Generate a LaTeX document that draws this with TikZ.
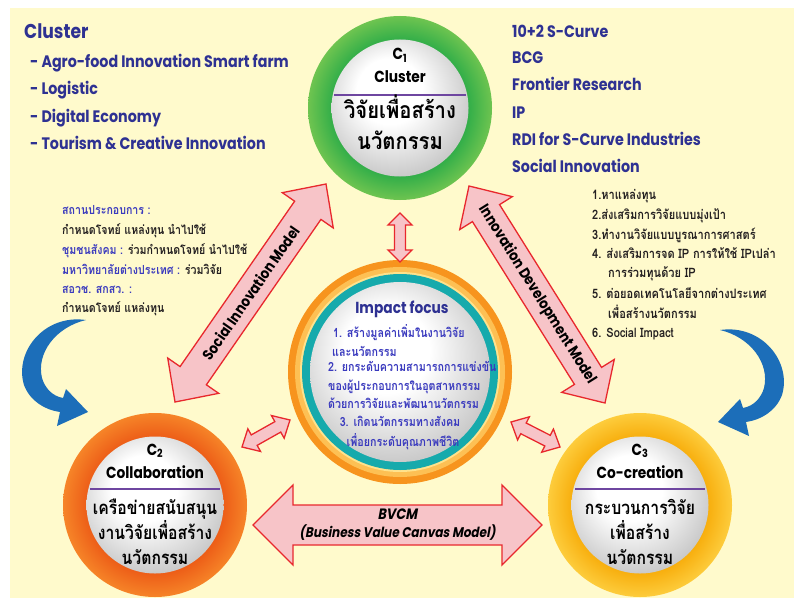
\documentclass[tikz,border=0pt]{standalone}
\usepackage{fontspec}
\setmainfont{Poppins}[FakeStretch=0.86]
\newfontfamily\thaifont[Script=Thai,FakeStretch=0.85]{Loma}
\newfontfamily\thaibig[Script=Thai,FakeStretch=0.88]{Loma}
\newfontfamily\slfont{Poppins}[FakeStretch=0.86,FakeSlant=0.18]
\usetikzlibrary{calc}

\definecolor{bgyellow}{RGB}{255,250,204}
\definecolor{navy}{RGB}{46,49,146}
\definecolor{thaiblue}{RGB}{58,58,190}
\definecolor{txtblack}{RGB}{35,31,32}
\definecolor{gdark}{RGB}{45,172,72}
\definecolor{glight}{RGB}{110,196,80}
\definecolor{odark}{RGB}{236,90,22}
\definecolor{olight}{RGB}{246,132,40}
\definecolor{ydark}{RGB}{247,172,10}
\definecolor{ylight}{RGB}{253,204,60}
\definecolor{ringorange}{RGB}{247,148,30}
\definecolor{ringyellow}{RGB}{253,192,84}
\definecolor{ringpale}{RGB}{255,226,140}
\definecolor{ringteal}{RGB}{22,170,172}
\definecolor{arrowfill}{RGB}{247,196,200}
\definecolor{arrowline}{RGB}{232,40,45}
\definecolor{arcblue}{RGB}{28,110,185}
\definecolor{divider}{RGB}{110,70,160}

\pgfdeclareradialshading{ringG}{\pgfpoint{0bp}{0bp}}{color(0bp)=(gdark); color(18bp)=(gdark); color(25bp)=(glight); color(50bp)=(glight)}
\pgfdeclareradialshading{ringO}{\pgfpoint{0bp}{0bp}}{color(0bp)=(odark); color(18bp)=(odark); color(25bp)=(olight); color(50bp)=(olight)}
\pgfdeclareradialshading{ringY}{\pgfpoint{0bp}{0bp}}{color(0bp)=(ydark); color(18bp)=(ydark); color(25bp)=(ylight); color(50bp)=(ylight)}
\pgfdeclareradialshading{silver}{\pgfpoint{-5bp}{8bp}}{color(0bp)=(white); color(12bp)=(white); color(31bp)=(black!24); color(50bp)=(black!24)}

\newcommand\fatarrow[7]{%
  \path (#1); \pgfgetlastxy{\myax}{\myay}%
  \path (#2); \pgfgetlastxy{\mybx}{\myby}%
  \pgfmathsetmacro\myang{atan2(\myby-\myay,\mybx-\myax)}%
  \pgfmathsetmacro\myhl{veclen(\mybx-\myax,\myby-\myay)/2}%
  \begin{scope}[shift={($(#1)!0.5!(#2)$)}, rotate=\myang, x=1pt, y=1pt]
    \draw[fatarrowstyle] (-\myhl,0) -- (-\myhl+#5,#4) -- (-\myhl+#5,#3) -- (\myhl-#5,#3) -- (\myhl-#5,#4) -- (\myhl,0) -- (\myhl-#5,-#4) -- (\myhl-#5,-#3) -- (-\myhl+#5,-#3) -- (-\myhl+#5,-#4) -- cycle;
    \node[transform shape, arrowlabel] (#7) at (0,0) {#6};
  \end{scope}}

\tikzset{
  ringnode/.style={circle, inner sep=0pt, minimum size=184pt},
  discnode/.style={circle, inner sep=0pt, minimum size=137pt, shading=silver},
  fatarrowstyle/.style={draw=arrowline, line width=1.3pt, fill=arrowfill, line join=miter},
  arrowlabel/.style={inner sep=0pt, align=center, text=black, font=\bfseries\fontsize{15}{17}\selectfont},
  titletext/.style={inner sep=0pt, text=navy, font=\bfseries\fontsize{20}{23}\selectfont},
  listtext/.style={inner sep=0pt, anchor=base west, text=navy, font=\bfseries\fontsize{16.6}{19}\selectfont},
  thaiside/.style={inner sep=0pt, anchor=base west, text=txtblack, font=\thaifont\bfseries\fontsize{12.5}{15}\selectfont},
  thairight/.style={inner sep=0pt, anchor=base west, text=txtblack, font=\thaifont\bfseries\fontsize{13}{15}\selectfont},
  thaicenter/.style={inner sep=0pt, text=thaiblue, font=\thaifont\bfseries\fontsize{12.6}{15}\selectfont},
  ctitle/.style={inner sep=0pt, anchor=base, text=black, font=\bfseries\fontsize{16}{19}\selectfont},
  cthaibig/.style={inner sep=0pt, anchor=base, text=black, font=\thaibig\bfseries\fontsize{23}{26}\selectfont},
  cthai/.style={inner sep=0pt, anchor=base, text=black, font=\thaifont\bfseries\fontsize{18.5}{21}\selectfont},
  divline/.style={draw=divider, line width=1.3pt},
  bluearc/.pic={\fill[arcblue] (86,320) .. controls (44,314) and (14,352) .. (24,385) .. controls (30,401) and (45,410) .. (60,412) -- (57,426) -- (88,412) -- (66,389) -- (63,398) .. controls (52,396) and (45,388) .. (42,378) .. controls (36,353) and (56,327) .. (86,320) -- cycle;}
}

\begin{document}
\begin{tikzpicture}[x=1pt, y=-1pt]
\useasboundingbox (0,0) rectangle (794,607);
\fill[white] (0,0) rectangle (794,607);
\fill[bgyellow] (10,8) rectangle (794,598);

% blue curved arrows
\pic at (0,0) {bluearc};
\pic[xscale=-1] at (806,10) {bluearc};

% circles
\node[ringnode, shading=ringG] (c1) at (400,108) {};
\node[discnode] (c1in) at (c1) {};
\node[ringnode, shading=ringO] (c2) at (155,505) {};
\node[discnode] (c2in) at (c2) {};
\node[ringnode, shading=ringY] (c3) at (640,505) {};
\node[discnode] (c3in) at (c3) {};

% centre circle
\node[circle, inner sep=0pt, minimum size=224pt, fill=ringorange] (cc) at (400,372) {};
\node[circle, inner sep=0pt, minimum size=210pt, fill=ringyellow] (ccy) at (cc) {};
\node[circle, inner sep=0pt, minimum size=200pt, fill=ringpale] (ccp) at (cc) {};
\node[circle, inner sep=0pt, minimum size=196pt, fill=ringteal] (cct) at (cc) {};
\node[circle, inner sep=0pt, minimum size=180pt, shading=silver] (ccin) at (cc) {};

% C1 text
\node[ctitle] (c1a) at (400,60) {C\textsubscript{1}};
\node[ctitle] (c1b) at (400,83) {Cluster};
\draw[divline] ($(c1)+(-66,-13)$) -- ($(c1)+(66,-13)$);
\node[cthaibig] (c1c) at (400,118) {วิจัยเพื่อสร้าง};
\node[cthaibig] (c1d) at (400,149) {นวัตกรรม};

% C2 text
\node[ctitle] (c2a) at (155,455) {C\textsubscript{2}};
\node[ctitle] (c2b) at (155,478) {Collaboration};
\draw[divline] ($(c2)+(-65,-16)$) -- ($(c2)+(65,-16)$);
\node[cthai] (c2c) at (155,514) {เครือข่ายสนับสนุน};
\node[cthai] (c2d) at (155,539) {งานวิจัยเพื่อสร้าง};
\node[cthai] (c2e) at (155,564) {นวัตกรรม};

% C3 text
\node[ctitle] (c3a) at (640,455) {C\textsubscript{3}};
\node[ctitle] (c3b) at (640,478) {Co-creation};
\draw[divline] ($(c3)+(-65,-16)$) -- ($(c3)+(65,-16)$);
\node[cthai] (c3c) at (640,514) {กระบวนการวิจัย};
\node[cthai] (c3d) at (640,539) {เพื่อสร้าง};
\node[cthai] (c3e) at (640,564) {นวัตกรรม};

% centre text
\node[inner sep=0pt, anchor=base, text=navy, font=\bfseries\fontsize{16}{19}\selectfont] (imp) at (402,313) {Impact focus};
\node[thaicenter, anchor=base west] (i1) at (333,337) {1. สร้างมูลค่าเพิ่มในงานวิจัย};
\node[thaicenter, anchor=base west] (i2) at (332,356) {และนวัตกรรม};
\node[thaicenter, anchor=base west] (i3) at (328,371) {2. ยกระดับความสามารถการแข่งขัน};
\node[thaicenter, anchor=base west] (i4) at (328,390) {ของผู้ประกอบการในอุตสาหกรรม};
\node[thaicenter, anchor=base west] (i5) at (328,408) {ด้วยการวิจัยและพัฒนานวัตกรรม};
\node[thaicenter, anchor=base] (i6) at (400,426) {3. เกิดนวัตกรรมทางสังคม};
\node[thaicenter, anchor=base] (i7) at (403,446) {เพื่อยกระดับคุณภาพชีวิต};

% arrow end points
\coordinate (simA) at (175,402);
\coordinate (simB) at (326,184);
\coordinate (idmA) at (469,186);
\coordinate (idmB) at (605,403);
\coordinate (bvA) at (253,525);
\coordinate (bvB) at (542,525);
\coordinate (s1A) at (400,262);
\coordinate (s1B) at (400,213);
\coordinate (s2A) at (242,447);
\coordinate (s2B) at (290,420);
\coordinate (s3A) at (511,422);
\coordinate (s3B) at (560,447);

\fatarrow{simA}{simB}{16}{31}{32}{Social Innovation Model}{simlab}
\fatarrow{idmA}{idmB}{16}{31}{32}{Innovation Development Model}{idmlab}
\fatarrow{bvA}{bvB}{20}{40}{40}{{\slfont\bfseries\fontsize{15}{17}\selectfont BVCM}\\[1pt]{\slfont\bfseries\fontsize{14}{16}\selectfont (Business Value Canvas Model)}}{bvlab}
\fatarrow{s1A}{s1B}{5.5}{12}{12}{}{s1lab}
\fatarrow{s2A}{s2B}{6}{13}{14}{}{s2lab}
\fatarrow{s3A}{s3B}{6}{13}{14}{}{s3lab}

% top-left list
\node[titletext, anchor=base west] (clt) at (24,39) {Cluster};
\node[listtext] (l1) at (30,68) {- Agro-food Innovation Smart farm};
\node[listtext] (l2) at (30,95) {- Logistic};
\node[listtext] (l3) at (30,122) {- Digital Economy};
\node[listtext] (l4) at (30,149) {- Tourism \& Creative Innovation};

% top-right list
\node[listtext] (r1) at (512,38) {10+2 S-Curve};
\node[listtext] (r2) at (512,64) {BCG};
\node[listtext] (r3) at (512,91) {Frontier Research};
\node[listtext] (r4) at (512,118) {IP};
\node[listtext] (r5) at (512,145) {RDI for S-Curve Industries};
\node[listtext] (r6) at (512,172) {Social Innovation};

% left Thai block
\node[thaiside] (t1) at (62,214) {\color{thaiblue}สถานประกอบการ :};
\node[thaiside] (t2) at (62,234) {กำหนดโจทย์ แหล่งทุน นำไปใช้};
\node[thaiside] (t3) at (62,254) {{\color{thaiblue}ชุมชนสังคม :} ร่วมกำหนดโจทย์ นำไปใช้};
\node[thaiside] (t4) at (62,274) {{\color{thaiblue}มหาวิทยาลัยต่างประเทศ :} ร่วมวิจัย};
\node[thaiside] (t5) at (62,293) {\color{thaiblue}สอวช. สกสว. :};
\node[thaiside] (t6) at (62,312) {กำหนดโจทย์ แหล่งทุน};

% right Thai list
\node[thairight] (u1) at (592,199) {1.หาแหล่งทุน};
\node[thairight] (u2) at (592,219) {2.ส่งเสริมการวิจัยแบบมุ่งเป้า};
\node[thairight] (u3) at (592,239) {3.ทำงานวิจัยแบบบูรณาการศาสตร์};
\node[thairight] (u4) at (592,258) {4. ส่งเสริมการจด IP การให้ใช้ IPเปล่า};
\node[thairight] (u5) at (608,277) {การร่วมทุนด้วย IP};
\node[thairight] (u6) at (592,298) {5. ต่อยอดเทคโนโลยีจากต่างประเทศ};
\node[thairight] (u7) at (608,318) {เพื่อสร้างนวัตกรรม};
\node[thairight] (u8) at (592,337) {6. Social Impact};
\end{tikzpicture}
\end{document}
